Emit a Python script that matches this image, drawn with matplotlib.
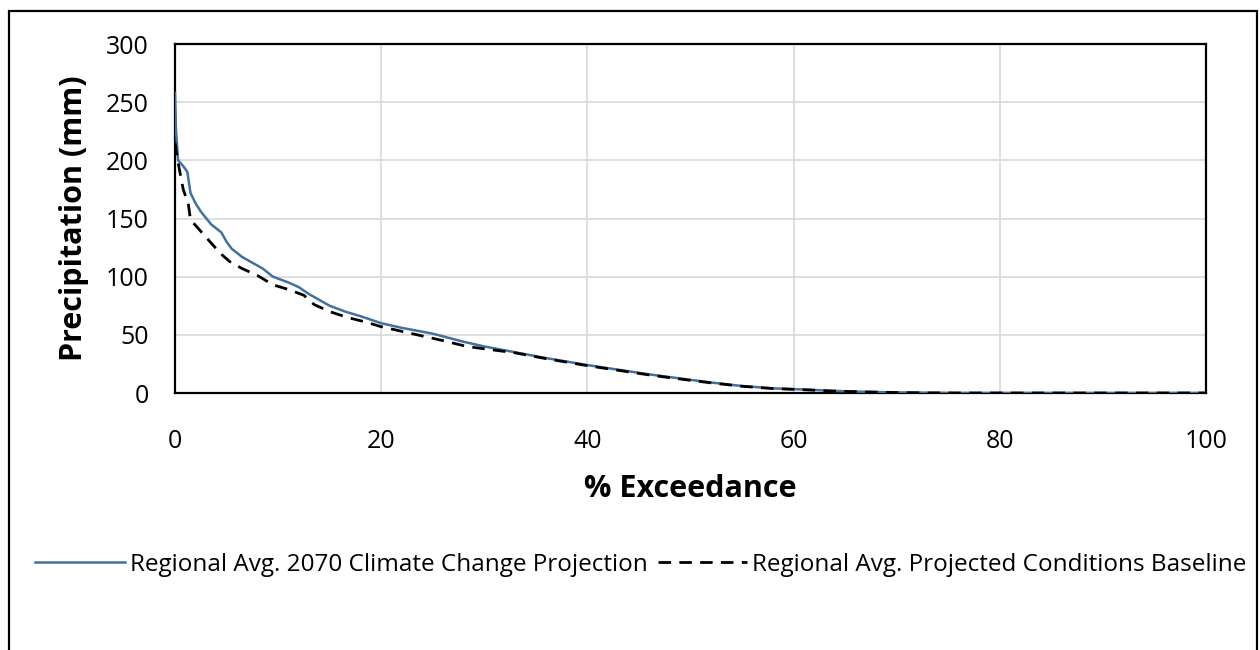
import numpy as np
import matplotlib
matplotlib.use('Agg')
import matplotlib.pyplot as plt
from matplotlib.patches import Rectangle

# % exceedance vs precipitation (mm)
proj_x = [0, 0.1, 0.3, 0.8, 1.2, 1.5, 2.0, 2.5, 3.5, 4.5, 5.0, 5.5, 6.5, 7.5, 8.5,
          9.5, 11, 12, 13, 14, 15, 16.5, 18, 20, 22, 25, 28, 30, 33, 36, 40, 43,
          46, 49, 52, 55, 58, 61, 64, 67, 70, 73, 76, 100]
proj_y = [258, 225, 200, 195, 190, 172, 163, 156, 145, 138, 130, 124, 117, 112, 107,
          100, 95, 91, 85, 80, 75, 70, 66, 60, 56, 51, 44, 40, 35, 30, 24, 20,
          16, 12.5, 9, 6, 4, 3, 1.8, 1, 0.5, 0.2, 0, 0]

base_x = [0, 0.3, 0.8, 1.3, 1.5, 2.1, 3.1, 4.4, 5.3, 6.5, 8, 9.5, 11, 12.5, 13.5,
          15, 16.7, 18.5, 20, 22, 24, 26, 28.3, 30, 33, 36, 40, 43, 46, 49, 52,
          55, 58, 61, 64, 67, 70, 73, 76, 100]
base_y = [215, 198, 175, 162, 149, 143, 133, 120, 113, 107, 101, 93, 89, 84, 76,
          70, 65, 61, 57, 53, 49, 45, 40, 38, 34.5, 29.5, 23.5, 19.5, 15.5, 12, 8.7,
          5.8, 3.8, 2.8, 1.6, 0.9, 0.4, 0.1, 0, 0]

x_ticks = [0, 20, 40, 60, 80, 100]
y_ticks = [0, 50, 100, 150, 200, 250, 300]

plt.rcParams['font.family'] = ['Open Sans', 'DejaVu Sans']

fig = plt.figure(figsize=(12.6, 6.5), dpi=100)
ax = fig.add_axes([175 / 1260, 1 - 393 / 650, (1206 - 175) / 1260, (393 - 44) / 650])

ax.plot(proj_x, proj_y, color='#41719C', lw=1.8,
        label='Regional Avg. 2070 Climate Change Projection', zorder=3)
ax.plot(base_x, base_y, color='black', lw=2.0, dashes=(4.5, 3),
        label='Regional Avg. Projected Conditions Baseline', zorder=4)

ax.set_xlim(0, 100)
ax.set_ylim(0, 300)
ax.set_xticks(x_ticks)
ax.set_yticks(y_ticks)
ax.tick_params(length=0, labelsize=18, colors='#000000')
ax.tick_params(axis='y', pad=19)
ax.tick_params(axis='x', pad=26)
ax.grid(True, color='#D9D9D9', lw=1.2)
ax.set_axisbelow(True)
for s in ax.spines.values():
    s.set_color('black')
    s.set_linewidth(1.6)

ax.set_xlabel('% Exceedance', fontsize=22, fontweight='bold', labelpad=14)
ax.set_ylabel('Precipitation (mm)', fontsize=22, fontweight='bold', labelpad=12)

fig.legend(loc='center', bbox_to_anchor=(641 / 1260, 1 - 565 / 650), ncol=2,
           frameon=False, fontsize=17.5, handlelength=3.7, handletextpad=0.2,
           columnspacing=0.4)

# outer chart frame
fig.patches.append(Rectangle((9 / 1260, -0.02), (1257 - 9) / 1260, (650 - 11) / 650 + 0.02,
                             transform=fig.transFigure, fill=False,
                             edgecolor='black', lw=1.6))

fig.savefig('out.png', dpi=100)
plt.close(fig)
